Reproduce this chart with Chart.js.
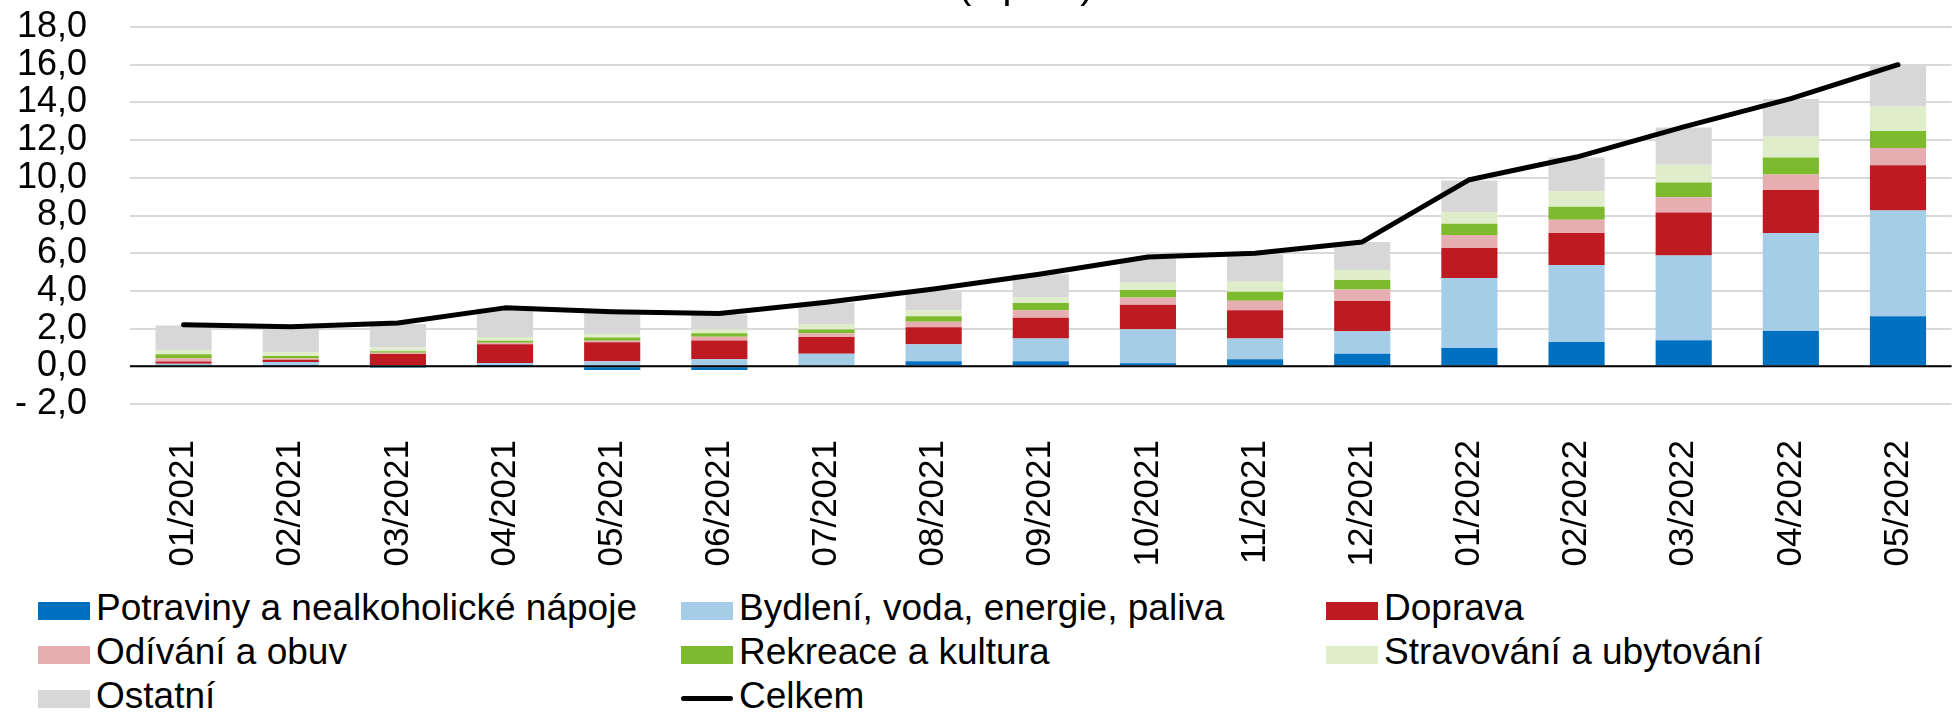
<!DOCTYPE html>
<html lang="cs">
<head>
<meta charset="utf-8">
<script src="https://cdn.jsdelivr.net/npm/chart.js@4.4.1/dist/chart.umd.min.js"></script>
<style>
  html, body { margin: 0; padding: 0; background: #fff; overflow: hidden; }
  #wrap { position: relative; width: 1955px; height: 712px; overflow: hidden; font-family: "Liberation Sans", Arial, sans-serif; }
  #chart { position: absolute; left: 0; top: 0; }
  #title { position: absolute; left: 958px; top: -36px; font-size: 40px; line-height: 40px; white-space: nowrap; color: #000; }
  .leg { position: absolute; font-size: 37px; line-height: 37px; white-space: nowrap; color: #000; padding-left: 58px; }
  .leg i { position: absolute; left: 0; display: block; }
</style>
</head>
<body>
<div id="wrap">
  <canvas id="chart" width="1968" height="580"></canvas>
  <div id="title">(v p. b.)</div>
  <div id="legend"></div>
</div>
<script>
var months = ['01/2021', '02/2021', '03/2021', '04/2021', '05/2021', '06/2021', '07/2021', '08/2021', '09/2021',
              '10/2021', '11/2021', '12/2021', '01/2022', '02/2022', '03/2022', '04/2022', '05/2022'];

var potraviny  = [0.04, 0.03, -0.08, 0.02, -0.2, -0.2, 0.05, 0.27, 0.27, 0.16, 0.37, 0.67, 0.97, 1.29, 1.38, 1.87, 2.65];
var bydleni    = [0.1, 0.2, 0.05, 0.15, 0.27, 0.37, 0.62, 0.9, 1.2, 1.8, 1.1, 1.19, 3.71, 4.08, 4.5, 5.2, 5.62];
var doprava    = [0.12, 0.12, 0.6, 1.0, 1.0, 1.0, 0.88, 0.9, 1.1, 1.3, 1.5, 1.6, 1.59, 1.7, 2.28, 2.28, 2.39];
var odivani    = [0.17, 0.07, 0.07, 0.08, 0.08, 0.2, 0.2, 0.3, 0.4, 0.39, 0.51, 0.62, 0.69, 0.71, 0.81, 0.83, 0.92];
var rekreace   = [0.21, 0.12, 0.08, 0.1, 0.18, 0.18, 0.2, 0.28, 0.39, 0.4, 0.48, 0.5, 0.6, 0.69, 0.78, 0.9, 0.9];
var stravovani = [0.22, 0.2, 0.2, 0.2, 0.18, 0.2, 0.3, 0.32, 0.3, 0.42, 0.53, 0.53, 0.62, 0.81, 0.94, 1.1, 1.31];
var ostatni    = [1.3, 1.35, 1.25, 1.5, 1.2, 0.8, 1.12, 1.06, 1.22, 1.22, 1.45, 1.49, 1.68, 1.8, 1.98, 2.0, 2.21];
var celkem     = [2.2, 2.1, 2.3, 3.1, 2.9, 2.8, 3.4, 4.1, 4.9, 5.8, 6.0, 6.6, 9.9, 11.1, 12.7, 14.2, 16.0];

var barSeries = [
    { label: 'Potraviny a nealkoholické nápoje', data: potraviny, color: '#0070C0' },
    { label: 'Bydlení, voda, energie, paliva', data: bydleni, color: '#A6CDE7' },
    { label: 'Doprava', data: doprava, color: '#BE1A22' },
    { label: 'Odívání a obuv', data: odivani, color: '#E6AEB0' },
    { label: 'Rekreace a kultura', data: rekreace, color: '#7EBA2D' },
    { label: 'Stravování a ubytování', data: stravovani, color: '#E0EDCB' },
    { label: 'Ostatní', data: ostatni, color: '#D7D7D7' }
];

function fmt(v) {
    var s = Math.abs(v).toFixed(1).replace('.', ',');
    return v < 0 ? '- ' + s : s;
}

// zero line drawn over the bars, like the axis line in the original
var zeroLine = {
    id: 'zeroLine',
    afterDatasetsDraw: function(chart) {
        var y = chart.scales.y.getPixelForValue(0);
        var c = chart.ctx;
        c.save();
        c.strokeStyle = '#000';
        c.lineWidth = 2;
        c.beginPath();
        c.moveTo(chart.chartArea.left, y);
        c.lineTo(chart.chartArea.right, y);
        c.stroke();
        c.restore();
    }
};

Chart.defaults.font.family = '"Liberation Sans", Arial, sans-serif';
Chart.defaults.color = '#000';

var datasets = barSeries.map(function(s) {
    return {
        type: 'bar',
        label: s.label,
        data: s.data,
        backgroundColor: s.color,
        borderWidth: 0,
        barPercentage: 0.524,
        categoryPercentage: 1.0,
        order: 1
    };
});
datasets.push({
    type: 'line',
    label: 'Celkem',
    data: celkem,
    borderColor: '#000',
    backgroundColor: '#000',
    borderWidth: 5,
    borderCapStyle: 'round',
    borderJoinStyle: 'round',
    pointRadius: 0,
    tension: 0,
    stack: 'total',
    order: 0
});

var ctx = document.getElementById('chart').getContext('2d');
new Chart(ctx, {
    type: 'bar',
    data: { labels: months, datasets: datasets },
    options: {
        responsive: false,
        animation: false,
        layout: { padding: { top: 27, left: 0, right: 0, bottom: 0 } },
        plugins: {
            legend: { display: false },
            tooltip: { enabled: false }
        },
        scales: {
            x: {
                stacked: true,
                grid: { display: false },
                border: { display: false },
                ticks: { font: { size: 35 }, color: '#000', minRotation: 90, maxRotation: 90, padding: 28, autoSkip: false },
                afterFit: function(s) { s.height = 580 - 404; }
            },
            y: {
                stacked: true,
                min: -2,
                max: 18,
                // tick marks are invisible; their length keeps labels away from the plot
                ticks: { stepSize: 2, font: { size: 36 }, color: '#000', padding: 0, autoSkip: false, callback: fmt },
                grid: { color: '#D9D9D9', lineWidth: 2, drawTicks: true, tickLength: 43, tickColor: 'rgba(0,0,0,0)' },
                border: { display: false },
                afterFit: function(s) { s.width = 130; }
            }
        }
    },
    plugins: [zeroLine]
});

// legend in three fixed columns, as in the original
var legCols = [38, 681, 1326];
var legBase = [620, 664, 708];
var items = barSeries.map(function(s) { return { label: s.label, color: s.color, line: false }; });
items.push({ label: 'Celkem', color: '#000', line: true });
var leg = document.getElementById('legend');
items.forEach(function(it, i) {
    var d = document.createElement('div');
    d.className = 'leg';
    d.style.left = legCols[i % 3] + 'px';
    d.style.top = (legBase[Math.floor(i / 3)] - 31) + 'px';
    var m = document.createElement('i');
    if (it.line) {
        m.style.cssText = 'top:19px;width:52px;height:5px;border-radius:3px;background:' + it.color;
    } else {
        m.style.cssText = 'top:13px;width:52px;height:18px;background:' + it.color;
    }
    d.appendChild(m);
    d.appendChild(document.createTextNode(it.label));
    leg.appendChild(d);
});
</script>
</body>
</html>
